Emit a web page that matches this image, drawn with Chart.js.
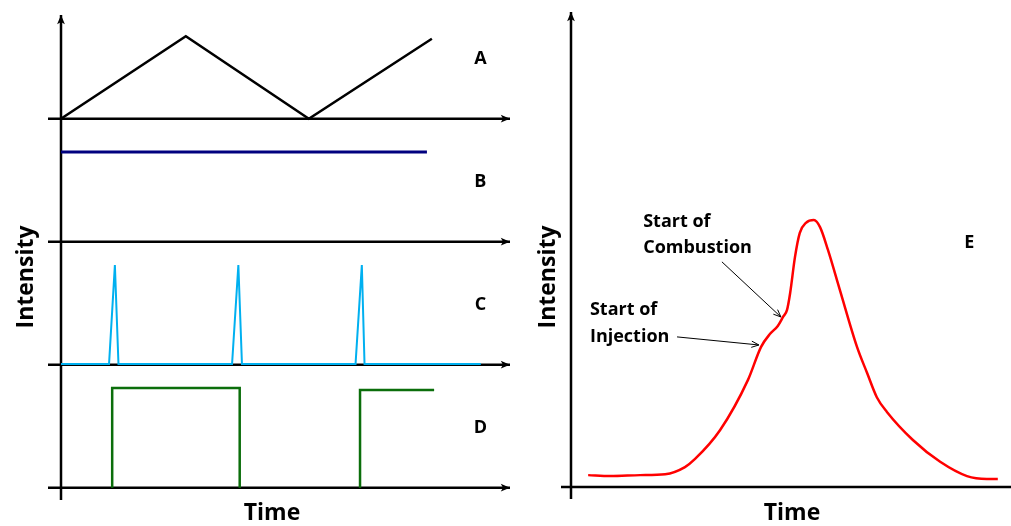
<!DOCTYPE html>
<html>
<head>
<meta charset="utf-8">
<script src="https://cdn.jsdelivr.net/npm/chart.js@4"></script>
<style>
  html, body { margin: 0; padding: 0; background: #fff; }
  #left { position: absolute; left: 0; top: 0; }
  #right { position: absolute; left: 520px; top: 0; }
</style>
</head>
<body>
<canvas id="left" width="520" height="526"></canvas>
<canvas id="right" width="491" height="526"></canvas>
<script>
// left panel, four traces sharing one time axis
const timeA = [0, 27.8, 55.2, 82.6];
const valA = [0, 67, 0, 65];
const timeB = [0, 81.5];
const valB = [73, 73];
const timeC = [0, 10.7, 12.0, 12.8, 38.1, 39.5, 40.3, 65.6, 67.0, 67.6, 93.5];
const valC = [0.6, 0.6, 81, 0.6, 0.6, 81, 0.6, 0.6, 81, 0.6, 0.6];
// null = pen lifted while D sits on the axis
const timeD = [11.4, 11.4, 39.8, 39.8, 53, 66.6, 66.6, 83.1];
const valD = [0, 81, 81, 0, null, 0, 79.5, 79.5];
const bandLabels = ["A", "B", "C", "D"];

// right panel, trace E
const timeE = [3.9, 8.9, 15.7, 21.4, 25.9, 28.2, 33.9, 40.2, 43.2, 45.2, 47.0, 48.2, 49.1, 49.8, 50.9, 52.0, 53.4, 55.2, 56.6, 58.4, 61.1, 65.0, 67.3, 69.5, 71.8, 77.7, 83.9, 90.0, 94.5, 97.0];
const valE = [2.5, 2.3, 2.5, 2.7, 4.2, 5.9, 12.0, 22.5, 29.5, 32.2, 33.9, 35.8, 37.3, 40.8, 48.4, 53.5, 55.6, 56.2, 54.7, 49.9, 41.5, 29.5, 24.0, 18.9, 15.8, 9.9, 5.3, 2.3, 1.7, 1.7];
const axisTitleY = "Intensity";
const axisTitleX = "Time";

const FONT = "'Open Sans', sans-serif";

function pts(xs, ys){
  return xs.map((x, i) => ({x: x, y: ys[i]}));
}

function arrow(ctx, x1, y1, x2, y2, head, filled){
  const a = Math.atan2(y2 - y1, x2 - x1);
  ctx.beginPath();
  ctx.moveTo(x1, y1);
  ctx.lineTo(x2, y2);
  ctx.stroke();
  ctx.beginPath();
  ctx.moveTo(x2, y2);
  ctx.lineTo(x2 - head * Math.cos(a - 0.4), y2 - head * Math.sin(a - 0.4));
  if (filled) {
    ctx.lineTo(x2 - head * 0.7 * Math.cos(a), y2 - head * 0.7 * Math.sin(a));
    ctx.lineTo(x2 - head * Math.cos(a + 0.4), y2 - head * Math.sin(a + 0.4));
    ctx.closePath();
    ctx.fill();
  } else {
    ctx.moveTo(x2, y2);
    ctx.lineTo(x2 - head * Math.cos(a + 0.4), y2 - head * Math.sin(a + 0.4));
    ctx.stroke();
  }
}

function titles(ctx, cx, cy, tx, ty){
  ctx.save();
  ctx.fillStyle = "#000";
  ctx.font = "bold 23px " + FONT;
  ctx.textAlign = "center";
  ctx.textBaseline = "middle";
  ctx.fillText(axisTitleX, tx, ty);
  ctx.translate(cx, cy);
  ctx.rotate(-Math.PI / 2);
  ctx.fillText(axisTitleY, 0, 0);
  ctx.restore();
}

const bandIds = ["yA", "yB", "yC", "yD"];

const leftAxes = {
  id: "leftAxes",
  beforeDatasetsDraw(chart){
    const ctx = chart.ctx;
    const area = chart.chartArea;
    const xs = chart.scales.x;
    ctx.save();
    ctx.strokeStyle = "#000";
    ctx.fillStyle = "#000";
    ctx.lineWidth = 2.5;
    bandIds.forEach((id) => {
      const y0 = chart.scales[id].getPixelForValue(0);
      arrow(ctx, area.left - 13, y0, area.right, y0, 10, true);
    });
    const x0 = xs.getPixelForValue(0);
    arrow(ctx, x0, area.bottom, x0, area.top + 7, 10, true);
    ctx.restore();
  },
  afterDraw(chart){
    const ctx = chart.ctx;
    const xs = chart.scales.x;
    ctx.save();
    ctx.fillStyle = "#000";
    ctx.font = "bold 18px " + FONT;
    ctx.textAlign = "center";
    ctx.textBaseline = "middle";
    bandIds.forEach((id, i) => {
      ctx.fillText(bandLabels[i], xs.getPixelForValue(93.4), chart.scales[id].getPixelForValue(49));
    });
    ctx.restore();
    titles(ctx, 26, 277, 272, 513);
  }
};

function bandScale(w){
  return {type: "linear", display: false, min: -10, max: 90, stack: "left", stackWeight: 1, weight: w};
}

new Chart(document.getElementById("left"), {
  type: "line",
  data: {
    datasets: [
      {data: pts(timeA, valA), yAxisID: "yA", borderColor: "#000", borderWidth: 2.5},
      {data: pts(timeB, valB), yAxisID: "yB", borderColor: "#00007f", borderWidth: 3},
      {data: pts(timeC, valC), yAxisID: "yC", borderColor: "#00b0f0", borderWidth: 2},
      {data: pts(timeD, valD), yAxisID: "yD", borderColor: "#0b6e0b", borderWidth: 2.5, spanGaps: false},
    ]
  },
  options: {
    responsive: false,
    animation: false,
    pointRadius: 0,
    tension: 0,
    layout: {padding: {left: 61, right: 10, top: 8, bottom: 26}},
    plugins: {legend: {display: false}, tooltip: {enabled: false}},
    scales: {
      x: {type: "linear", display: false, min: 0, max: 100},
      yA: bandScale(4),
      yB: bandScale(3),
      yC: bandScale(2),
      yD: bandScale(1),
    }
  },
  plugins: [leftAxes]
});

const rightAxes = {
  id: "rightAxes",
  beforeDatasetsDraw(chart){
    const ctx = chart.ctx;
    const area = chart.chartArea;
    const xs = chart.scales.x;
    const ys = chart.scales.y;
    ctx.save();
    ctx.strokeStyle = "#000";
    ctx.fillStyle = "#000";
    ctx.lineWidth = 2.5;
    const x0 = xs.getPixelForValue(0);
    const y0 = ys.getPixelForValue(0);
    ctx.beginPath();
    ctx.moveTo(area.left - 10, y0);
    ctx.lineTo(area.right, y0);
    ctx.stroke();
    arrow(ctx, x0, y0 + 12, x0, area.top, 10, true);
    ctx.restore();
  },
  afterDraw(chart){
    const ctx = chart.ctx;
    const xs = chart.scales.x;
    const ys = chart.scales.y;
    const px = (v) => xs.getPixelForValue(v);
    const py = (v) => ys.getPixelForValue(v);
    ctx.save();
    ctx.fillStyle = "#000";
    ctx.font = "bold 18px " + FONT;
    ctx.textAlign = "left";
    ctx.textBaseline = "middle";
    ctx.fillText("Start of", px(4.3), py(37.3));
    ctx.fillText("Injection", px(4.3), py(31.6));
    ctx.fillText("Start of", px(16.4), py(55.8));
    ctx.fillText("Combustion", px(16.4), py(50.3));
    ctx.textAlign = "center";
    ctx.fillText("E", px(90.5), py(51.4));
    ctx.strokeStyle = "#000";
    ctx.lineWidth = 1;
    arrow(ctx, px(24.1), py(31.6), px(42.7), py(29.9), 8, false);
    arrow(ctx, px(34.3), py(47.4), px(47.7), py(35.8), 8, false);
    ctx.restore();
    titles(ctx, 548 - 520, 277, 792 - 520, 513);
  }
};

new Chart(document.getElementById("right"), {
  type: "line",
  data: {
    datasets: [
      {data: pts(timeE, valE), borderColor: "#ff0000", borderWidth: 2.5, cubicInterpolationMode: "monotone"}
    ]
  },
  options: {
    responsive: false,
    animation: false,
    pointRadius: 0,
    layout: {padding: {left: 51, right: 0, top: 12, bottom: 39}},
    plugins: {legend: {display: false}, tooltip: {enabled: false}},
    scales: {
      x: {type: "linear", display: false, min: 0, max: 100},
      y: {type: "linear", display: false, min: 0, max: 100}
    }
  },
  plugins: [rightAxes]
});
</script>
</body>
</html>
